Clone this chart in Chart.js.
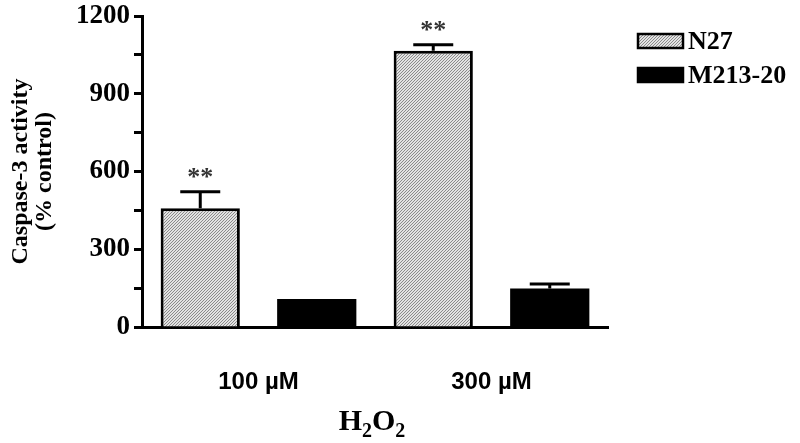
<!DOCTYPE html>
<html lang="en">
<head>
  <meta charset="UTF-8">
  <title>Caspase-3 activity</title>
  <style>
    body, html {
      margin: 0;
      padding: 0;
      background: white;
    }
    #wrap {
      width: 800px;
      height: 443px;
    }
  </style>
</head>
<body>
  <div id="wrap"><canvas id="myChart" width="800" height="443"></canvas></div>

  <script src="https://cdn.jsdelivr.net/npm/chart.js"></script>
  <script>
    // data
    var categories = ['100 \u00b5M', '300 \u00b5M'];
    var n27 = [458, 1066];
    var n27Err = [64, 23];
    var m213 = [108, 149];
    var m213Err = [0, 17];
    var stars = ['**', '**'];   // over N27 bars
    var yTicks = [0, 300, 600, 900, 1200];

    // hatched fill for N27 (fine diagonal lines)
    function hatch() {
      var c = document.createElement('canvas');
      c.width = 3; c.height = 3;
      var g = c.getContext('2d');
      g.fillStyle = '#e2e2e2';
      g.fillRect(0, 0, 3, 3);
      g.fillStyle = '#8a8a8a';
      g.fillRect(2, 0, 1, 1);
      g.fillRect(1, 1, 1, 1);
      g.fillRect(0, 2, 1, 1);
      return g.createPattern(c, 'repeat');
    }
    var hatchFill = hatch();

    // error bars, asterisks, legend and x title
    var extras = {
      id: 'extras',
      afterDatasetsDraw: function(chart) {
        var ctx = chart.ctx;
        var y = chart.scales.y;
        var errs = [n27Err, m213Err];
        ctx.save();
        ctx.strokeStyle = 'black';
        ctx.lineWidth = 3;
        for (var d = 0; d < 2; d++) {
          var meta = chart.getDatasetMeta(d);
          meta.data.forEach(function(bar, i) {
            var v = chart.data.datasets[d].data[i];
            var e = errs[d][i];
            if (!e) return;
            var top = y.getPixelForValue(v + e);
            ctx.beginPath();
            ctx.moveTo(bar.x, bar.y);
            ctx.lineTo(bar.x, top);
            ctx.moveTo(bar.x - 20, top);
            ctx.lineTo(bar.x + 20, top);
            ctx.stroke();
            if (d === 0 && stars[i]) {
              ctx.fillStyle = '#333';
              ctx.font = 'bold 26px "Liberation Serif"';
              ctx.textAlign = 'center';
              ctx.textBaseline = 'middle';
              ctx.fillText(stars[i], bar.x, top - 13);
            }
          });
        }

        // legend
        var items = [
          { label: 'N27', fill: hatchFill, y: 41 },
          { label: 'M213-20', fill: 'black', y: 75 }
        ];
        items.forEach(function(it) {
          ctx.fillStyle = it.fill;
          ctx.fillRect(637, it.y - 8, 47, 16);
          ctx.lineWidth = 2.5;
          ctx.strokeStyle = 'black';
          ctx.strokeRect(638, it.y - 7, 45, 14);
          ctx.fillStyle = 'black';
          ctx.font = 'bold 26px "Liberation Serif"';
          ctx.textAlign = 'left';
          ctx.textBaseline = 'middle';
          ctx.fillText(it.label, 688, it.y + 1);
        });

        // x title H2O2 with subscripts
        var parts = [['H', 30, 0], ['2', 20, 7], ['O', 30, 0], ['2', 20, 7]];
        var total = 0;
        parts.forEach(function(p) {
          ctx.font = 'bold ' + p[1] + 'px "Liberation Serif"';
          total += ctx.measureText(p[0]).width;
        });
        var x = 372 - total / 2;
        ctx.textBaseline = 'alphabetic';
        ctx.textAlign = 'left';
        parts.forEach(function(p) {
          ctx.font = 'bold ' + p[1] + 'px "Liberation Serif"';
          ctx.fillText(p[0], x, 430 + p[2]);
          x += ctx.measureText(p[0]).width;
        });
        ctx.restore();
      }
    };

    var ctx = document.getElementById('myChart').getContext('2d');
    var myChart = new Chart(ctx, {
      type: 'bar',
      data: {
        labels: categories,
        datasets: [{
          label: 'N27',
          data: n27,
          backgroundColor: hatchFill,
          borderColor: 'black',
          borderWidth: 3,
          borderSkipped: 'bottom'
        }, {
          label: 'M213-20',
          data: m213,
          backgroundColor: 'black',
          borderColor: 'black',
          borderWidth: 0
        }]
      },
      plugins: [extras],
      options: {
        responsive: false,
        animation: false,
        events: [],
        layout: {
          padding: { left: 0, right: 192, top: 16, bottom: 0 }
        },
        datasets: {
          bar: { categoryPercentage: 1.0, barPercentage: 0.68 }
        },
        plugins: {
          legend: { display: false },
          tooltip: { enabled: false }
        },
        scales: {
          x: {
            grid: { display: false },
            border: { display: true, color: 'black', width: 3 },
            ticks: {
              color: 'black',
              padding: 33,
              font: { family: '"Liberation Sans"', size: 24, weight: 'bold' }
            },
            afterFit: function(scale) {
              scale.height = 116;
              scale.paddingLeft = 0;
              scale.paddingRight = 0;
            }
          },
          y: {
            min: 0,
            max: 1200,
            afterBuildTicks: function(scale) {
              var t = [];
              for (var v = 0; v <= 1200; v += 150) t.push({ value: v });
              scale.ticks = t;
            },
            ticks: {
              color: 'black',
              padding: 4,
              font: { family: '"Liberation Serif"', size: 27, weight: 'bold' },
              callback: function(v) { return yTicks.indexOf(v) >= 0 ? String(v) : ''; }
            },
            grid: {
              drawOnChartArea: false,
              drawTicks: true,
              tickLength: 8,
              tickColor: 'black',
              tickWidth: 3
            },
            border: { display: true, color: 'black', width: 3 },
            title: {
              display: true,
              text: ['Caspase-3 activity', '(% control)'],
              color: 'black',
              font: { family: '"Liberation Serif"', size: 24, weight: 'bold', lineHeight: 1.0 },
              padding: { top: 9, bottom: 0 }
            },
            afterFit: function(scale) {
              scale.width = 142;
              scale.paddingTop = 0;
              scale.paddingBottom = 0;
            }
          }
        }
      }
    });
  </script>
</body>
</html>
